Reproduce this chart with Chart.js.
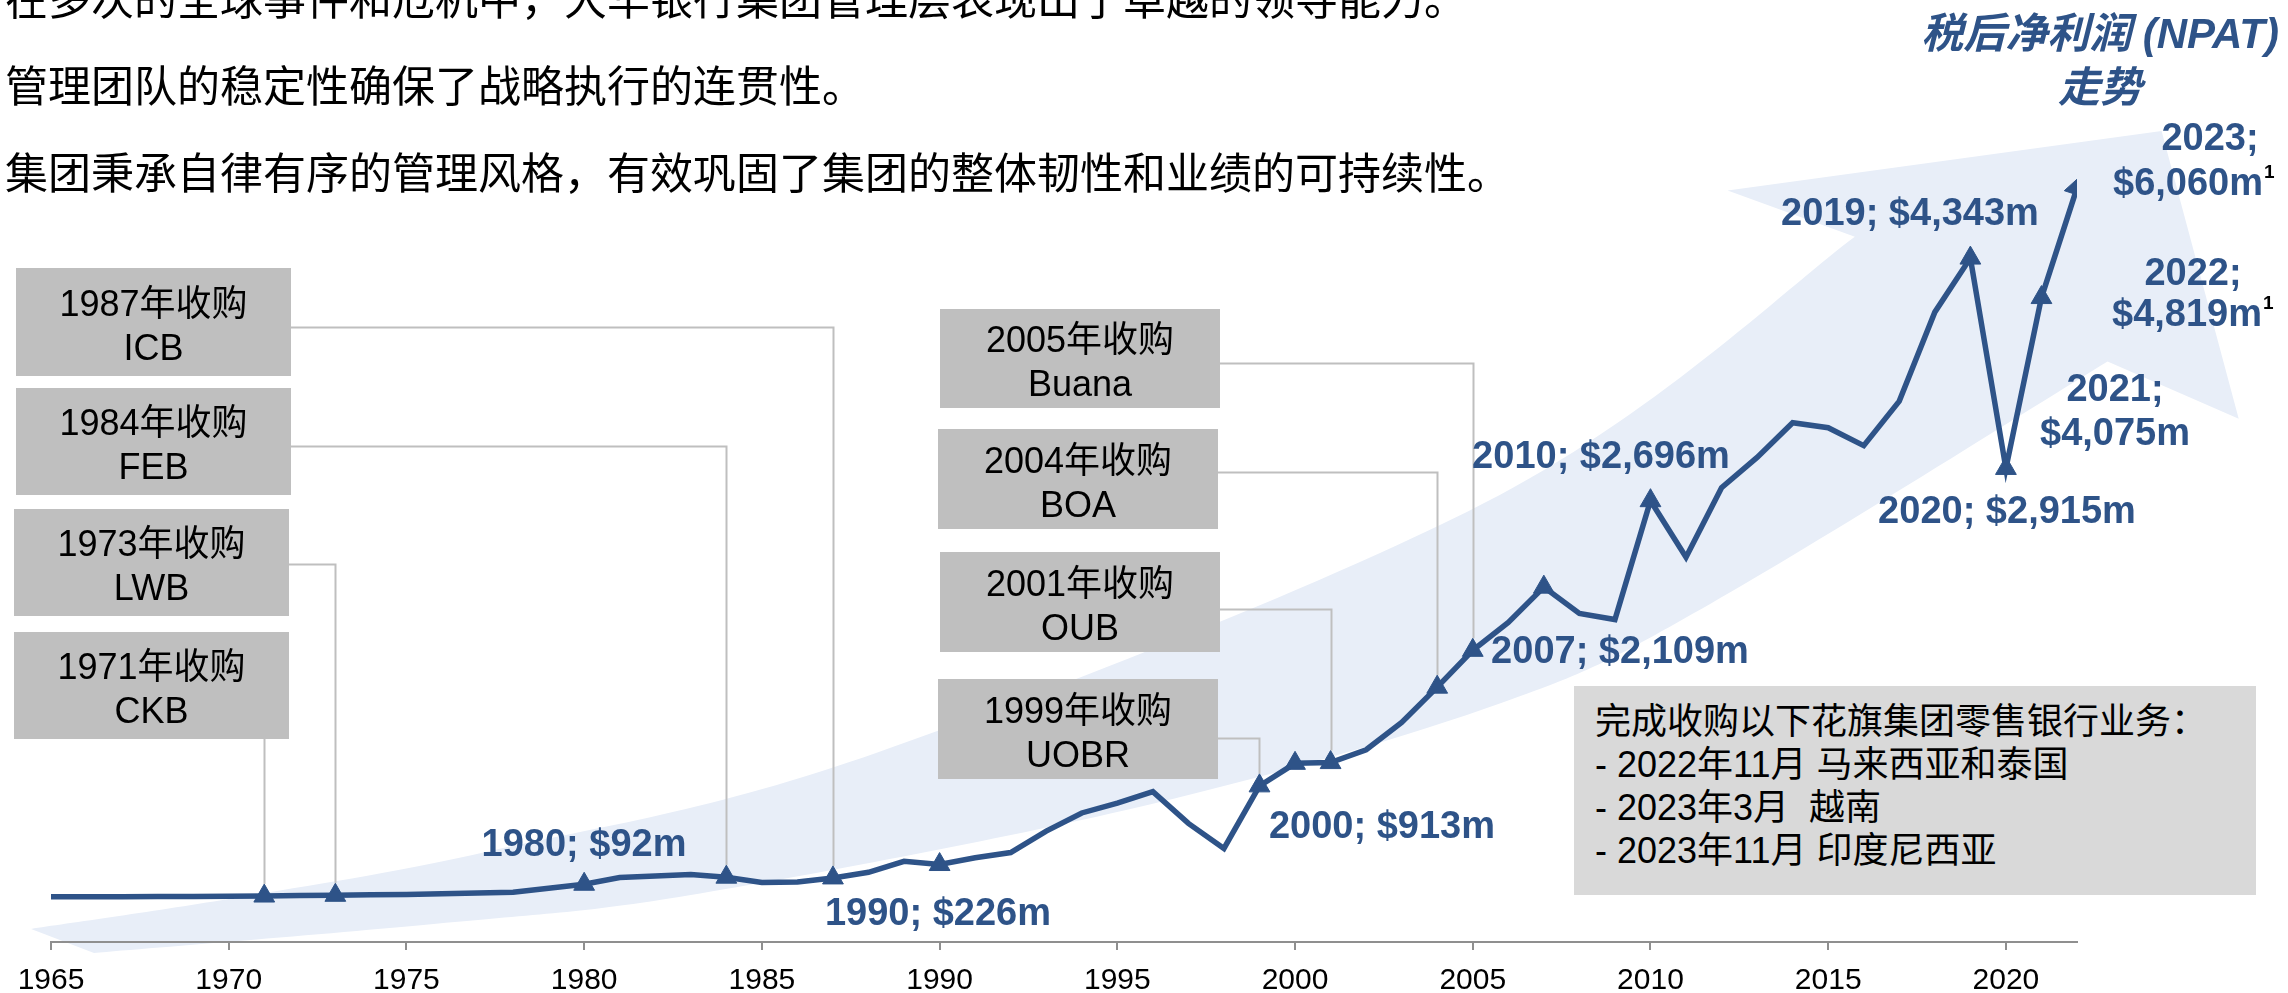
<!DOCTYPE html>
<html>
<head>
<meta charset="utf-8">
<script src="https://cdn.jsdelivr.net/npm/chart.js@4.4.1/dist/chart.umd.min.js"></script>
<style>
  html, body { margin: 0; padding: 0; background: #fff; overflow: hidden; }
  #wrap { position: relative; width: 2288px; height: 993px; }
  #chart { position: absolute; left: 0; top: 0; }
  .para { position: absolute; left: 5px; font: 43px/60px "Noto Sans CJK SC"; color: #000; white-space: nowrap; }
  .title { position: absolute; left: 1912px; width: 376px; text-align: center; font: italic bold 42px/57px "Liberation Sans", "Noto Sans CJK SC"; color: #2E5388; white-space: nowrap; }
  #note { position: absolute; left: 1574px; top: 686px; width: 661px; height: 195px; padding: 14px 0 0 21px; background: #D9D9D9; font: 36px/43px "Liberation Sans", "Noto Sans CJK SC"; color: #000; white-space: pre; }
</style>
</head>
<body>
<div id="wrap">
  <canvas id="chart" width="2288" height="993"></canvas>
  <div class="para" style="top:-34px">在多次的全球事件和危机中，大华银行集团管理层表现出了卓越的领导能力。</div>
  <div class="para" style="top:53px">管理团队的稳定性确保了战略执行的连贯性。</div>
  <div class="para" style="top:140px">集团秉承自律有序的管理风格，有效巩固了集团的整体韧性和业绩的可持续性。</div>
  <div class="title" style="top:5px">税后净利润 (NPAT)</div>
  <div class="title" style="top:59px">走势</div>
  <div id="note">完成收购以下花旗集团零售银行业务：
- 2022年11月 马来西亚和泰国
- 2023年3月  越南
- 2023年11月 印度尼西亚</div>
</div>
<script>
// 数据
const years = [1965, 1966, 1967, 1968, 1969, 1970, 1971, 1972, 1973, 1974,
               1975, 1976, 1977, 1978, 1979, 1980, 1981, 1982, 1983, 1984,
               1985, 1986, 1987, 1988, 1989, 1990, 1991, 1992, 1993, 1994,
               1995, 1996, 1997, 1998, 1999, 2000, 2001, 2002, 2003, 2004,
               2005, 2006, 2007, 2008, 2009, 2010, 2011, 2012, 2013, 2014,
               2015, 2016, 2017, 2018, 2019, 2020, 2021, 2022];
const npat = [8, 8, 8, 9, 9, 10, 12, 15, 17, 20,
              22, 27, 32, 38, 65, 92, 138, 148, 158, 140,
              104, 108, 135, 173, 248, 226, 272, 307, 453, 576,
              643, 721, 505, 335, 760, 913, 918, 1005, 1191, 1430,
              1680, 1869, 2109, 1930, 1889, 2696, 2312, 2784, 2990, 3225,
              3191, 3070, 3372, 3976, 4343, 2915, 4075, 4819];
const markerYears = [1971, 1973, 1980, 1984, 1987, 1990, 1999, 2000, 2001, 2004, 2005, 2007, 2010, 2019, 2020, 2021];
const tickYears = [1965, 1970, 1975, 1980, 1985, 1990, 1995, 2000, 2005, 2010, 2015, 2020];

// 收购
const dealYears = [1987, 1984, 1973, 1971, 2005, 2004, 2001, 1999];
const dealNames = ['ICB', 'FEB', 'LWB', 'CKB', 'Buana', 'BOA', 'OUB', 'UOBR'];

// 数据标签
const labelYears = [1980, 1990, 2000, 2007, 2010, 2019, 2020, 2021, 2022, 2023];
const labelValues = ['$92m', '$226m', '$913m', '$2,109m', '$2,696m', '$4,343m', '$2,915m', '$4,075m', '$4,819m', '$6,060m'];

// 背景箭头 (年份, 数值)
const arrowUpper = [[1964.44, -211], [1970.2, 0], [1977.38, 319], [1988.29, 990], [2005.76, 2735], [2015.75, 4487]];
const arrowHead = [[2012.17, 4802], [2024.38, 5205], [2026.55, 3252]];
const arrowLower = [[2022.86, 3641], [2011.69, 1997], [2005.84, 1326], [1995.91, 634], [1983.26, 30], [1976.11, -170], [1966.21, -375]];

const BLUE = '#2E5388';
const PALE = '#E8EEF8';
const LATIN = '"Liberation Sans", "Noto Sans CJK SC"';

// 版面
const boxLayout = {
    1987: { x: 16, y: 268, w: 275, h: 108, cy: 327 },
    1984: { x: 16, y: 388, w: 275, h: 107, cy: 446 },
    1973: { x: 14, y: 509, w: 275, h: 107, cy: 564 },
    1971: { x: 14, y: 632, w: 275, h: 107, cy: null },
    2005: { x: 940, y: 309, w: 280, h: 99, cy: 363 },
    2004: { x: 938, y: 429, w: 280, h: 100, cy: 472 },
    2001: { x: 940, y: 552, w: 280, h: 100, cy: 609 },
    1999: { x: 938, y: 679, w: 280, h: 100, cy: 738 }
};
const labelLayout = {
    1980: [[584, 846]],
    1990: [[938, 915]],
    2000: [[1382, 828]],
    2007: [[1620, 653]],
    2010: [[1601, 458]],
    2019: [[1910, 215]],
    2020: [[2007, 513]],
    2021: [[2115, 391], [2115, 435]],
    2022: [[2193, 275], [2187, 316]],
    2023: [[2210, 140], [2188, 185]]
};
const footnoted = [2022, 2023];

function smoothTo(ctx, pts) {
    for (let i = 0; i < pts.length - 1; i++) {
        const p0 = pts[i - 1] || pts[i], p1 = pts[i], p2 = pts[i + 1], p3 = pts[i + 2] || p2;
        ctx.bezierCurveTo(
            p1[0] + (p2[0] - p0[0]) / 6, p1[1] + (p2[1] - p0[1]) / 6,
            p2[0] - (p3[0] - p1[0]) / 6, p2[1] - (p3[1] - p1[1]) / 6,
            p2[0], p2[1]);
    }
}

const decorPlugin = {
    id: 'decor',
    beforeDraw(chart) {
        const { ctx, scales: { x, y } } = chart;
        const px = p => [x.getPixelForValue(p[0]), y.getPixelForValue(p[1])];
        const up = arrowUpper.map(px), head = arrowHead.map(px), low = arrowLower.map(px);
        ctx.save();
        ctx.fillStyle = PALE;
        ctx.beginPath();
        ctx.moveTo(up[0][0], up[0][1]);
        smoothTo(ctx, up);
        head.forEach(p => ctx.lineTo(p[0], p[1]));
        ctx.lineTo(low[0][0], low[0][1]);
        smoothTo(ctx, low);
        ctx.closePath();
        ctx.fill();
        ctx.restore();
    },
    beforeDatasetsDraw(chart) {
        const { ctx, scales: { x, y } } = chart;
        ctx.save();
        // 连接线
        ctx.strokeStyle = '#BFBFBF';
        ctx.lineWidth = 2;
        dealYears.forEach(yr => {
            const b = boxLayout[yr];
            const xp = Math.round(x.getPixelForValue(yr)) + 0.5;
            const yEnd = y.getPixelForValue(npat[years.indexOf(yr)]) - 12;
            ctx.beginPath();
            if (b.cy === null) {
                ctx.moveTo(xp, b.y + b.h);
            } else {
                ctx.moveTo(b.x + b.w, b.cy + 0.5);
                ctx.lineTo(xp, b.cy + 0.5);
            }
            ctx.lineTo(xp, yEnd);
            ctx.stroke();
        });
        // 方框
        ctx.font = `36px ${LATIN}`;
        ctx.textAlign = 'center';
        ctx.textBaseline = 'middle';
        dealYears.forEach((yr, i) => {
            const b = boxLayout[yr];
            ctx.fillStyle = '#BFBFBF';
            ctx.fillRect(b.x, b.y, b.w, b.h);
            ctx.fillStyle = '#000';
            const cx = b.x + b.w / 2, cy = b.y + b.h / 2;
            ctx.fillText(yr + '年收购', cx, cy - 16);
            ctx.fillText(dealNames[i], cx, cy + 28);
        });
        ctx.restore();
    },
    afterDatasetsDraw(chart) {
        const { ctx } = chart;
        ctx.save();
        ctx.textAlign = 'center';
        ctx.textBaseline = 'middle';
        labelYears.forEach((yr, i) => {
            const pos = labelLayout[yr];
            ctx.font = `bold 38px ${LATIN}`;
            ctx.fillStyle = BLUE;
            let last;
            if (pos.length === 1) {
                ctx.fillText(`${yr}; ${labelValues[i]}`, pos[0][0], pos[0][1]);
                last = { text: `${yr}; ${labelValues[i]}`, p: pos[0] };
            } else {
                ctx.fillText(`${yr};`, pos[0][0], pos[0][1]);
                ctx.fillText(labelValues[i], pos[1][0], pos[1][1]);
                last = { text: labelValues[i], p: pos[1] };
            }
            if (footnoted.includes(yr)) {
                const w = ctx.measureText(last.text).width;
                ctx.font = `bold 19px ${LATIN}`;
                ctx.fillStyle = '#000';
                ctx.textAlign = 'left';
                ctx.fillText('1', last.p[0] + w / 2 + 1, last.p[1] - 12);
                ctx.textAlign = 'center';
            }
        });
        ctx.restore();
    }
};

const lastIdx = years.length - 1;
new Chart(document.getElementById('chart'), {
    type: 'line',
    data: {
        datasets: [{
            data: years.map((yr, i) => ({ x: yr, y: npat[i] })),
            borderColor: BLUE,
            borderWidth: 5.5,
            borderJoinStyle: 'miter',
            tension: 0,
            pointStyle: 'triangle',
            pointBackgroundColor: BLUE,
            pointBorderColor: BLUE,
            pointBorderWidth: 1,
            pointRadius: c => c.dataIndex === lastIdx ? 13 : (markerYears.includes(years[c.dataIndex]) ? 12 : 0),
            pointRotation: c => {
                if (c.dataIndex !== lastIdx) return 0;
                const xs = c.chart.scales.x, ys = c.chart.scales.y;
                const dx = xs.getPixelForValue(years[lastIdx]) - xs.getPixelForValue(years[lastIdx - 1]);
                const dy = ys.getPixelForValue(npat[lastIdx]) - ys.getPixelForValue(npat[lastIdx - 1]);
                const a = Math.atan2(dx, -dy) * 180 / Math.PI;
                return isFinite(a) ? a : 0;
            }
        }]
    },
    options: {
        responsive: false,
        animation: false,
        layout: { padding: { left: 51, right: 211, top: 4, bottom: 0 } },
        plugins: { legend: { display: false }, tooltip: { enabled: false } },
        scales: {
            x: {
                type: 'linear',
                min: 1965,
                max: 2022,
                afterBuildTicks: s => { s.ticks = tickYears.map(v => ({ value: v })); },
                afterFit: s => { s.height = 51; },
                grid: { drawOnChartArea: false, drawTicks: true, tickLength: 8, color: '#8F8F8F', lineWidth: 2 },
                border: { display: true, color: '#8F8F8F', width: 2 },
                ticks: {
                    color: '#000',
                    font: { family: 'Liberation Sans', size: 30 },
                    padding: 13,
                    maxRotation: 0,
                    autoSkip: false,
                    callback: v => String(v)
                }
            },
            y: { display: false, min: -300, max: 6000 }
        }
    },
    plugins: [decorPlugin]
});
</script>
</body>
</html>
